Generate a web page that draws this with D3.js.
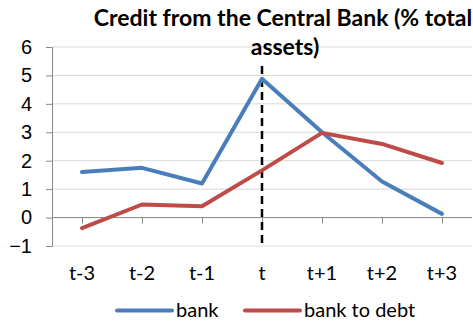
<!DOCTYPE html>
<html><head><meta charset="utf-8">
<script src="https://cdn.jsdelivr.net/npm/d3@7"></script>
<style>
html,body{margin:0;padding:0;background:#fff;}
svg{display:block;font-family:Lato,"Open Sans","Liberation Sans",sans-serif;}
</style></head>
<body><svg id="c" width="473" height="323"></svg>
<script>
const categories = ["t-3","t-2","t-1","t","t+1","t+2","t+3"];
const bank = [1.6, 1.75, 1.2, 4.88, 3.0, 1.27, 0.13];
const bankToDebt = [-0.37, 0.46, 0.4, 1.66, 2.98, 2.59, 1.92];
const yTicks = [-1,0,1,2,3,4,5,6];
const seriesNames = ["bank","bank to debt"];
const colors = ["#4a7ebb","#be4b48"];

const svg = d3.select("#c");
const plotLeft = 52, plotRight = 472, plotTop = 47, plotBottom = 246;

const x = d3.scalePoint().domain(categories).range([plotLeft, plotRight]).padding(0.5);
const y = d3.scaleLinear().domain([-1, 6]).range([plotBottom, plotTop]);

// horizontal gridlines
svg.append("g").selectAll("line").data(yTicks).join("line")
  .attr("x1", plotLeft).attr("x2", plotRight)
  .attr("y1", d => y(d)).attr("y2", d => y(d))
  .attr("stroke", "#d9d9d9").attr("stroke-width", 1);

// y axis
const yAxis = svg.append("g").attr("transform", `translate(${plotLeft},0)`)
  .call(d3.axisLeft(y).tickValues(yTicks).tickSize(6).tickPadding(14).tickFormat(d3.format("d")));
yAxis.select(".domain").attr("stroke", "#888");
yAxis.selectAll(".tick line").attr("stroke", "#888");
yAxis.selectAll("text").attr("font-size", 20).attr("fill", "#000").attr("font-family", null);

// x axis along zero
const xAxis = svg.append("g").attr("transform", `translate(0,${y(0)})`)
  .call(d3.axisBottom(x).tickSize(6).tickFormat(""));
xAxis.select(".domain").attr("stroke", "#888").attr("d", `M${plotLeft},0H${plotRight}`);
xAxis.selectAll(".tick line").attr("stroke", "#888");

// category labels below plot
svg.append("g").selectAll("text").data(categories).join("text")
  .attr("x", d => x(d)).attr("y", 280)
  .attr("text-anchor", "middle").attr("font-size", 20).attr("fill", "#000")
  .text(d => d);

// reference line at t
svg.append("line")
  .attr("x1", x("t")).attr("x2", x("t"))
  .attr("y1", 66).attr("y2", plotBottom)
  .attr("stroke", "#000").attr("stroke-width", 2.5).attr("stroke-dasharray", "8,5");

const line = d3.line().x((d, i) => x(categories[i])).y(d => y(d));
[bank, bankToDebt].forEach((s, k) => {
  svg.append("path").datum(s)
    .attr("d", line).attr("fill", "none")
    .attr("stroke", colors[k]).attr("stroke-width", 4)
    .attr("stroke-linejoin", "round").attr("stroke-linecap", "round");
});

// title
const title = svg.append("text").attr("text-anchor", "middle")
  .attr("font-size", 23).attr("font-weight", "bold").attr("fill", "#000");
title.append("tspan").attr("x", 283).attr("y", 26).text("Credit from the Central Bank (% total");
title.append("tspan").attr("x", 285).attr("y", 55).text("assets)");

// legend
const lg = [{x: 117, tx: 176}, {x: 245, tx: 304}];
seriesNames.forEach((n, k) => {
  svg.append("line").attr("x1", lg[k].x).attr("x2", lg[k].x + 55)
    .attr("y1", 310.5).attr("y2", 310.5)
    .attr("stroke", colors[k]).attr("stroke-width", 4).attr("stroke-linecap", "round");
  svg.append("text").attr("x", lg[k].tx).attr("y", 317)
    .attr("font-size", 20).attr("fill", "#000").text(n);
});
</script></body></html>
